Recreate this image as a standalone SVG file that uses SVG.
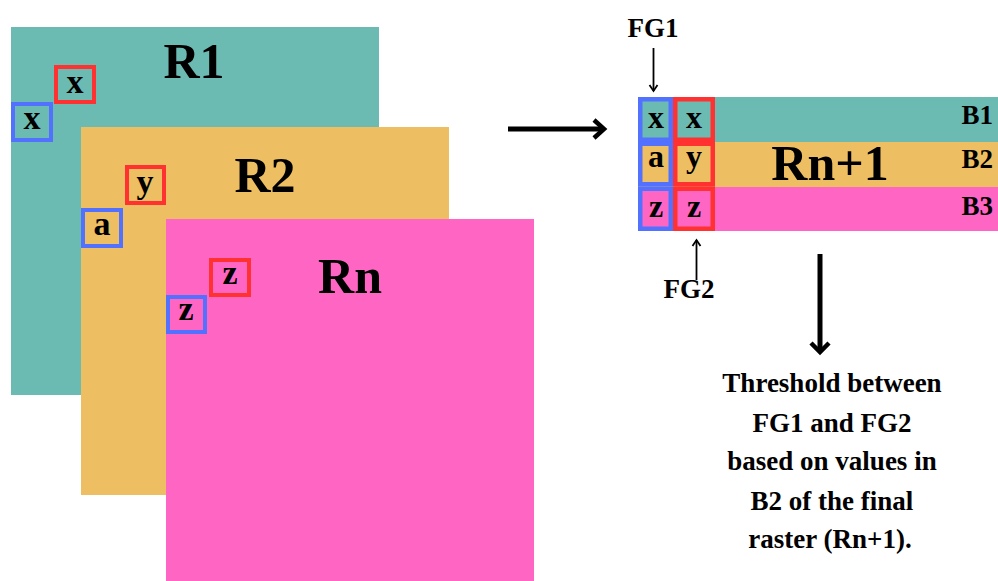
<svg xmlns="http://www.w3.org/2000/svg" width="998" height="581" viewBox="0 0 998 581">
<style>
text{font-family:"Liberation Serif","Times New Roman",serif;font-weight:bold;fill:#000;text-anchor:middle}
.big{font-size:50px}
.sm{font-size:34px}
.cell{font-size:32px}
.lab{font-size:27px}
.teal{fill:#6cbbb3}
.orange{fill:#eebe62}
.pink{fill:#ff66c4}
.rb{fill:none;stroke:#ff3131;stroke-width:4}
.bb{fill:none;stroke:#5271ff;stroke-width:4}
.rc{stroke:#ff3131;stroke-width:4.5}
.bc{stroke:#5271ff;stroke-width:4.5}
.arr{fill:none;stroke:#000;stroke-linecap:butt;stroke-linejoin:miter}
</style>
<rect width="998" height="581" fill="#fff"/>
<g id="R1">
<rect class="teal" x="11" y="27" width="368" height="368"/>
<text class="big" x="194" y="78">R1</text>
<rect class="rb" x="56" y="67" width="38" height="35"/>
<text class="sm" x="75" y="93">x</text>
<rect class="bb" x="13" y="104" width="38" height="36"/>
<text class="sm" x="32" y="129">x</text>
</g>
<g id="R2">
<rect class="orange" x="81" y="127" width="368" height="368"/>
<text class="big" x="265" y="192">R2</text>
<rect class="rb" x="127" y="167" width="37" height="36"/>
<text class="sm" x="145" y="193">y</text>
<rect class="bb" x="83" y="210" width="38" height="36"/>
<text class="sm" x="102" y="235">a</text>
</g>
<g id="Rn">
<rect class="pink" x="166" y="219" width="368" height="362"/>
<text class="big" x="350" y="293">Rn</text>
<rect class="rb" x="211" y="260" width="38" height="35"/>
<text class="sm" x="230" y="284">z</text>
<rect class="bb" x="168" y="297" width="37" height="35"/>
<text class="sm" x="186" y="320">z</text>
</g>
<g id="Rn1">
<rect class="teal" x="638" y="97" width="360" height="45"/>
<rect class="orange" x="638" y="142" width="360" height="45"/>
<rect class="pink" x="638" y="187" width="360" height="44"/>
<rect class="teal bc" x="640.25" y="99.25" width="30.5" height="40.5"/>
<rect class="orange bc" x="640.25" y="143.75" width="30.5" height="40.5"/>
<rect class="pink bc" x="640.25" y="188.75" width="30.5" height="40"/>
<rect class="teal rc" x="675.25" y="99.25" width="37.5" height="40.5"/>
<rect class="orange rc" x="675.25" y="143.75" width="37.5" height="40.5"/>
<rect class="pink rc" x="675.25" y="188.75" width="37.5" height="40"/>
<text class="cell" x="656" y="128">x</text>
<text class="cell" x="694" y="128">x</text>
<text class="cell" x="656" y="167">a</text>
<text class="cell" x="694" y="167">y</text>
<text class="cell" x="656" y="217">z</text>
<text class="cell" x="694" y="217">z</text>
<text class="big" x="830" y="180">Rn+1</text>
<text class="lab" x="993" y="124" style="text-anchor:end">B1</text>
<text class="lab" x="993" y="168" style="text-anchor:end">B2</text>
<text class="lab" x="993" y="215" style="text-anchor:end">B3</text>
</g>
<g id="FG1"><text class="lab" x="653" y="37">FG1</text></g>
<g id="FG2"><text class="lab" x="689" y="298">FG2</text></g>
<g id="note">
<text class="lab" x="832" y="392">Threshold between</text>
<text class="lab" x="832" y="432">FG1 and FG2</text>
<text class="lab" x="832" y="470">based on values in</text>
<text class="lab" x="832" y="510">B2 of the final</text>
<text class="lab" x="830" y="548">raster (Rn+1).</text>
</g>
<g id="connectors">
<path class="arr" d="M508 129H604" stroke-width="5"/>
<path class="arr" d="M594 120L604 129L594 138" stroke-width="4.5"/>
<path class="arr" d="M820 254V352" stroke-width="5"/>
<path class="arr" d="M811 343L820 352L829 343" stroke-width="4.5"/>
<path class="arr" d="M653.5 48V91" stroke-width="1.8"/>
<path class="arr" d="M649.5 85L653.5 91L657.5 85" stroke-width="1.8"/>
<path class="arr" d="M696.5 280V240" stroke-width="1.8"/>
<path class="arr" d="M692.5 246L696.5 240L700.5 246" stroke-width="1.8"/>
</g>
</svg>
